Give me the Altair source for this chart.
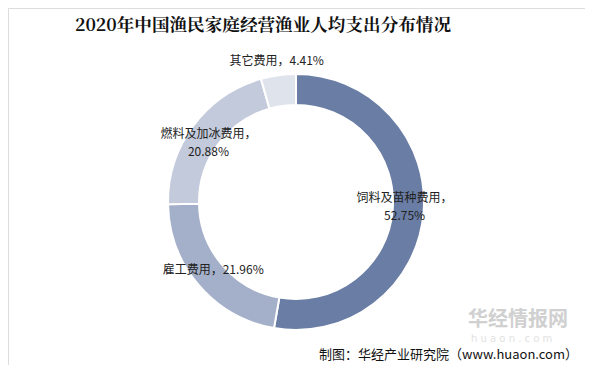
import altair as alt
import pandas as pd

categories = ["饲料及苗种费用", "雇工费用", "燃料及加冰费用", "其它费用"]
values = [52.75, 21.96, 20.88, 4.41]
labels = ["饲料及苗种费用，\n52.75%", "雇工费用，21.96%", "燃料及加冰费用，\n20.88%", "其它费用，4.41%"]
colors = ["#6a7da5", "#a4b0c9", "#c3cadb", "#dfe3ec"]

title_text = "2020年中国渔民家庭经营渔业人均支出分布情况"
source_text = "制图：华经产业研究院（www.huaon.com）"

df = pd.DataFrame({
    "cat": categories,
    "val": values,
    "label": labels,
    "order": list(range(len(categories))),
})

W, H = 577, 357
CX, CY = 288, 194

base = alt.Chart(df).encode(
    theta=alt.Theta("val:Q", stack=True),
    order=alt.Order("order:Q", sort="ascending"),
)

arcs = base.mark_arc(innerRadius=97, outerRadius=128, stroke="white", strokeWidth=2).encode(
    color=alt.Color("cat:N", scale=alt.Scale(domain=categories, range=colors), legend=None),
    x=alt.value(CX), y=alt.value(CY),
)


def label_layer(test, radius, dy):
    return base.mark_text(
        radius=radius, font="Noto Sans CJK SC", fontSize=12, color="#222222",
        lineBreak="\n", align="center", baseline="middle", lineHeight=18, dy=dy,
    ).encode(
        text=alt.condition(test, "label:N", alt.value("")),
        x=alt.value(CX), y=alt.value(CY),
    )


lab_main = label_layer(alt.datum.cat == categories[0], 109, -13)
lab_mid = label_layer((alt.datum.cat == categories[1]) | (alt.datum.cat == categories[2]), 109, -3)
lab_out = label_layer(alt.datum.cat == categories[3], 140, -2)

title = alt.Chart(pd.DataFrame({"t": [title_text]})).mark_text(
    font="Noto Serif CJK SC, Noto Sans CJK SC", fontSize=17.6, fontWeight="bold",
    color="#111111", align="center", baseline="middle",
).encode(text="t:N", x=alt.value(255), y=alt.value(18))

wm1 = alt.Chart(pd.DataFrame({"t": ["华经情报网"]})).mark_text(
    font="Noto Sans CJK SC", fontSize=20, fontWeight="bold", color="#d0d0d0",
    align="left", baseline="middle",
).encode(text="t:N", x=alt.value(460), y=alt.value(312))

wm2 = alt.Chart(pd.DataFrame({"t": ["h u a o n . c o m"]})).mark_text(
    font="DejaVu Sans", fontSize=10, color="#e2e2e2", align="left", baseline="middle",
).encode(text="t:N", x=alt.value(463), y=alt.value(331))

source = alt.Chart(pd.DataFrame({"t": [source_text]})).mark_text(
    font="Noto Sans CJK SC", fontSize=13, color="#111111", align="right", baseline="middle",
).encode(text="t:N", x=alt.value(570), y=alt.value(347))

chart = alt.layer(arcs, lab_main, lab_mid, lab_out, title, wm1, wm2, source).properties(
    width=W, height=H,
    autosize=alt.AutoSizeParams(type="none"),
    padding=0,
).configure_view(stroke="#8c8c8c", strokeWidth=1).configure(background="white")

chart.save("out.html", embed_options={"renderer": "svg", "actions": False})
